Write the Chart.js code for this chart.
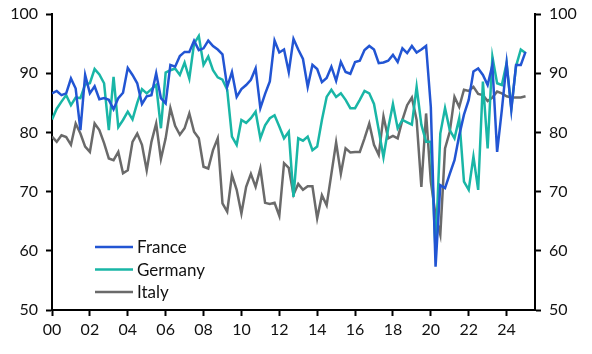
<!DOCTYPE html>
<html>
<head>
<meta charset="utf-8">
<script src="https://cdn.jsdelivr.net/npm/chart.js@4"></script>
<style>
  html, body { margin: 0; padding: 0; background: #fff; }
  #wrap { width: 592px; height: 354px; position: relative; }
</style>
</head>
<body>
<div id="wrap"><canvas id="chart" width="592" height="354"></canvas></div>
<script>
// Quarterly readings, 2000Q1 .. 2025Q1
const startYear = 2000;
const xTicks = [2000, 2002, 2004, 2006, 2008, 2010, 2012, 2014, 2016, 2018, 2020, 2022, 2024];
const yTicks = [50, 60, 70, 80, 90, 100];

const france = [
  86.6, 87.0, 86.3, 86.6, 89.1, 87.4, 80.4, 89.7, 86.6, 87.8,
  85.6, 85.8, 85.5, 83.9, 85.8, 86.7, 90.9, 89.7, 88.3, 84.8,
  86.1, 86.3, 90.0, 85.8, 84.9, 91.4, 91.1, 92.9, 93.6, 93.6,
  95.5, 93.9, 94.2, 95.5, 94.6, 94.0, 93.2, 87.7, 90.2, 86.0,
  87.3, 88.0, 88.9, 90.8, 84.1, 86.5, 88.6, 95.5, 93.5, 94.0,
  90.2, 95.8, 94.0, 92.4, 87.7, 91.4, 90.7, 88.5, 89.2, 91.1,
  88.7, 91.9, 90.2, 89.9, 91.9, 92.1, 93.9, 94.6, 94.0, 91.7,
  91.8, 92.1, 93.1, 91.9, 94.2, 93.4, 94.6, 93.5, 94.0, 94.6,
  84.3, 57.3, 71.1, 70.6, 73.0, 75.3, 79.5, 83.0, 85.5, 90.3,
  90.8, 89.7, 88.0, 91.4, 76.7, 83.8, 91.7, 83.8, 91.4, 91.4,
  93.6
];

const germany = [
  82.2, 84.0, 85.2, 86.3, 84.6, 85.9, 85.8, 88.1, 88.3, 90.7,
  89.8, 88.3, 80.4, 89.4, 80.9, 82.1, 83.5, 82.2, 85.0, 87.3,
  86.6, 87.3, 88.0, 80.7, 90.1, 90.5, 90.8, 89.7, 91.8, 89.1,
  95.0, 96.3, 91.4, 92.8, 90.5, 89.3, 88.9, 87.2, 79.3, 77.9,
  82.1, 81.6, 82.4, 83.5, 79.0, 81.2, 82.4, 82.9, 81.0, 79.0,
  80.1, 69.1, 79.0, 78.6, 79.3, 77.0, 77.6, 82.1, 86.0, 87.2,
  86.0, 86.6, 85.5, 84.1, 84.1, 85.5, 87.0, 86.6, 84.8, 80.4,
  75.8, 80.7, 84.8, 80.7, 82.1, 81.7, 81.3, 87.7, 81.3, 78.4,
  78.4, 59.9, 79.8, 84.1, 80.4, 79.0, 82.4, 71.7, 70.3, 75.9,
  70.3, 88.6, 77.3, 92.8, 88.3, 88.0, 91.7, 84.1, 91.2, 94.0,
  93.4
];

const italy = [
  79.3, 78.4, 79.5, 79.2, 77.9, 81.5, 79.8, 77.6, 76.7, 81.5,
  80.4, 78.2, 75.6, 75.3, 76.7, 73.1, 73.6, 78.4, 79.8, 77.9,
  73.6, 78.4, 81.5, 75.5, 79.0, 84.1, 81.1, 79.6, 80.7, 83.2,
  80.1, 79.0, 74.2, 73.9, 77.0, 79.0, 68.0, 66.6, 72.8, 70.3,
  66.3, 70.8, 73.0, 70.8, 73.9, 68.1, 67.9, 68.1, 65.9, 74.8,
  74.0, 69.5, 71.3, 70.3, 70.9, 70.9, 65.5, 69.4, 67.7, 73.0,
  78.3, 73.0, 77.3, 76.6, 76.7, 76.7, 79.0, 81.5, 77.9, 76.2,
  82.7, 79.0, 79.4, 79.0, 82.1, 84.6, 85.9, 82.1, 70.8, 83.2,
  71.7, 66.0, 62.7, 77.3, 80.1, 86.0, 84.3, 87.2, 87.0, 87.7,
  86.5, 86.3, 85.3, 85.9, 86.9, 86.6, 86.1, 85.9, 85.9, 85.9,
  86.1
];

const seriesNames = ['France', 'Germany', 'Italy'];
const seriesColors = ['#2255d3', '#19b6a6', '#6a6a6a'];

const toPoints = vals => vals.map((v, i) => ({ x: startYear + i / 4, y: v }));

const FONT = 'Lato, "Open Sans", sans-serif';

// legend drawn inside the plot, bottom-left
const insideLegend = {
  id: 'insideLegend',
  afterDraw(chart) {
    const ctx = chart.ctx;
    const a = chart.chartArea;
    ctx.save();
    ctx.font = '17px ' + FONT;
    ctx.textBaseline = 'middle';
    seriesNames.forEach((name, i) => {
      const y = a.top + 233 + i * 22.5;
      ctx.strokeStyle = seriesColors[i];
      ctx.lineWidth = 2.5;
      ctx.beginPath();
      ctx.moveTo(a.left + 43, y);
      ctx.lineTo(a.left + 81, y);
      ctx.stroke();
      ctx.fillStyle = '#111';
      ctx.fillText(name, a.left + 85, y + 1);
    });
    ctx.restore();
  }
};

const noPad = s => { s.paddingTop = 0; s.paddingBottom = 0; s.paddingLeft = 0; s.paddingRight = 0; };

const yAxis = (pos, width) => ({
  type: 'linear',
  position: pos,
  min: 50,
  max: 100,
  afterBuildTicks: s => { s.ticks = yTicks.map(v => ({ value: v })); },
  afterFit: s => { s.width = width; noPad(s); },
  border: { display: true, color: '#000', width: 2 },
  grid: { drawOnChartArea: false, drawTicks: true, tickLength: 6, tickColor: '#000', tickWidth: 2 },
  ticks: { color: '#111', font: { family: FONT, size: 16 }, padding: 8 },
});

new Chart(document.getElementById('chart'), {
  type: 'line',
  data: {
    datasets: [france, germany, italy].map((vals, i) => ({
      label: seriesNames[i],
      data: toPoints(vals),
      borderColor: seriesColors[i],
      borderWidth: 2.5,
      pointRadius: 0,
      tension: 0,
      yAxisID: 'y',
    })),
  },
  options: {
    responsive: false,
    animation: false,
    devicePixelRatio: 1,
    layout: { padding: { top: 14, left: 0, right: 0, bottom: 0 } },
    plugins: { legend: { display: false }, tooltip: { enabled: false } },
    scales: {
      x: {
        type: 'linear',
        min: 2000,
        max: 2025.5,
        afterBuildTicks: s => { s.ticks = xTicks.map(v => ({ value: v })); },
        afterFit: s => { s.height = 44; noPad(s); },
        border: { display: true, color: '#000', width: 2 },
        grid: { drawOnChartArea: false, drawTicks: true, tickLength: 6, tickColor: '#000', tickWidth: 2 },
        ticks: {
          color: '#111',
          font: { family: FONT, size: 16 },
          padding: 4,
          maxRotation: 0,
          callback: v => String(v % 100).padStart(2, '0'),
        },
      },
      y: yAxis('left', 52),
      y2: yAxis('right', 57),
    },
  },
  plugins: [insideLegend],
});
</script>
</body>
</html>
